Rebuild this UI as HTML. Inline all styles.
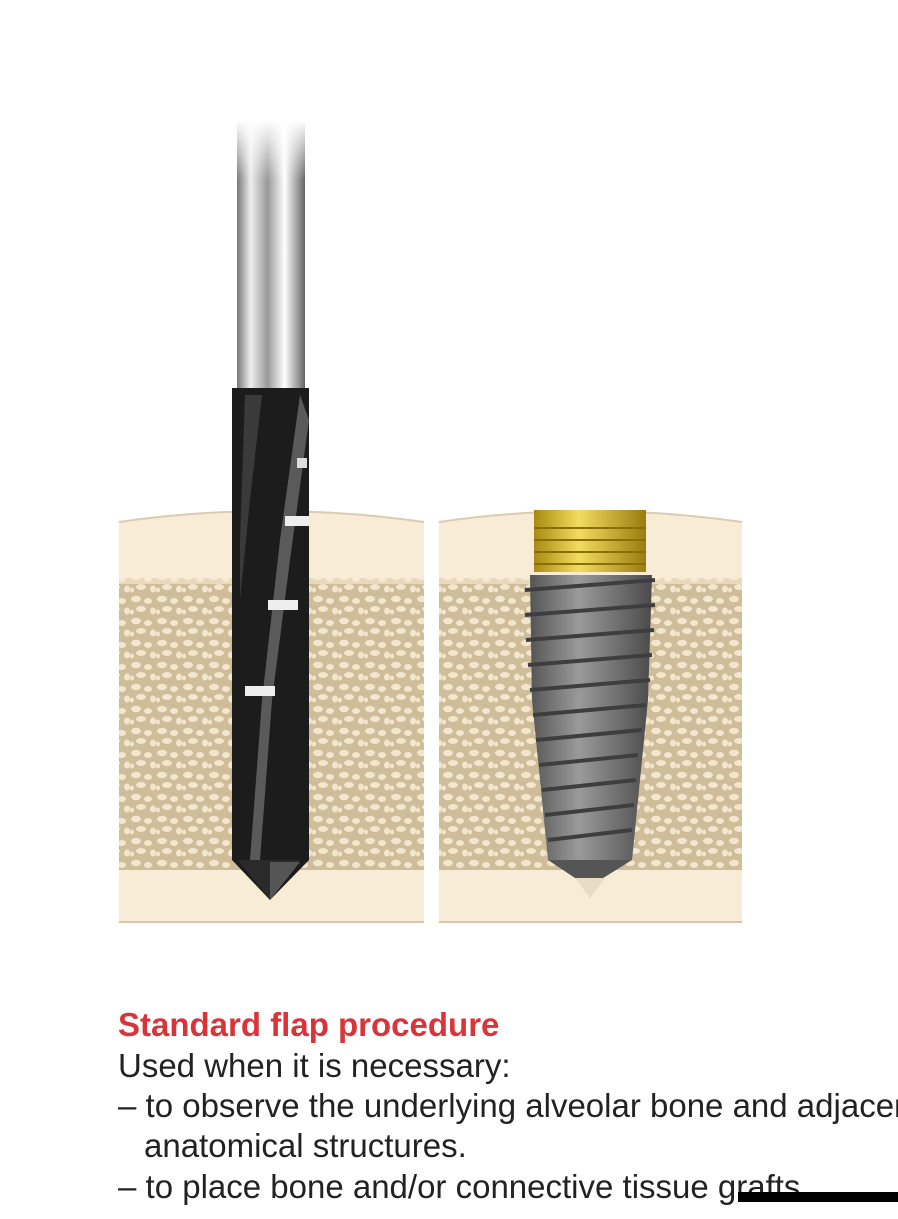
<!DOCTYPE html>
<html><head><style>
html,body{margin:0;padding:0;background:#fff;width:898px;height:1219px;overflow:hidden;position:relative}
.t{position:absolute;left:118px;font-family:"Liberation Sans",sans-serif;font-size:33px;color:#222;white-space:nowrap;line-height:1}
</style></head><body>
<svg width="898" height="1000" style="position:absolute;left:0;top:0">
<defs>
<pattern id="sp" width="26" height="22" patternUnits="userSpaceOnUse">
<rect width="26" height="22" fill="#cfbc98"/>
<ellipse cx="6" cy="5" rx="5" ry="3.2" fill="#f2e6cf"/>
<ellipse cx="18" cy="7" rx="4" ry="3" fill="#f2e6cf"/>
<ellipse cx="11" cy="15" rx="5" ry="3" fill="#f2e6cf"/>
<ellipse cx="23" cy="17" rx="3" ry="3.5" fill="#f2e6cf"/>
<ellipse cx="2" cy="18" rx="2" ry="2.5" fill="#f2e6cf"/>
</pattern>
<linearGradient id="shaft" x1="0" x2="1">
<stop offset="0" stop-color="#777"/><stop offset="0.2" stop-color="#eee"/><stop offset="0.45" stop-color="#999"/><stop offset="0.7" stop-color="#fff"/><stop offset="1" stop-color="#666"/>
</linearGradient>
<linearGradient id="shaftfade" x1="0" y1="0" x2="0" y2="1">
<stop offset="0" stop-color="#fff" stop-opacity="1"/><stop offset="1" stop-color="#fff" stop-opacity="0"/>
</linearGradient>
<linearGradient id="gold" x1="0" x2="1">
<stop offset="0" stop-color="#a88a10"/><stop offset="0.4" stop-color="#f2dc60"/><stop offset="1" stop-color="#9a7c10"/>
</linearGradient>
<linearGradient id="ti" x1="0" x2="1">
<stop offset="0" stop-color="#555"/><stop offset="0.4" stop-color="#9a9a9a"/><stop offset="1" stop-color="#4a4a4a"/>
</linearGradient>
</defs>
<path d="M119 522 Q270 500 424 522 L424 922 L119 922 Z" fill="#f8ecd6"/>
<rect x="119" y="578" width="305" height="292" fill="url(#sp)"/>
<rect x="119" y="570" width="305" height="14" fill="#f8ecd6" opacity="0.6"/>
<path d="M119 522 Q270 500 424 522" stroke="#dccbb0" stroke-width="2" fill="none"/>
<line x1="119" y1="922" x2="424" y2="922" stroke="#d8c6a6" stroke-width="2"/>
<path d="M439 522 Q590 500 742 522 L742 922 L439 922 Z" fill="#f8ecd6"/>
<rect x="439" y="578" width="303" height="292" fill="url(#sp)"/>
<rect x="439" y="570" width="303" height="14" fill="#f8ecd6" opacity="0.6"/>
<path d="M439 522 Q590 500 742 522" stroke="#dccbb0" stroke-width="2" fill="none"/>
<line x1="439" y1="922" x2="742" y2="922" stroke="#d8c6a6" stroke-width="2"/>
<rect x="237" y="120" width="68" height="270" fill="url(#shaft)"/>
<rect x="237" y="120" width="68" height="60" fill="url(#shaftfade)"/>
<path d="M232 388 L309 388 L309 860 L270 900 L232 860 Z" fill="#1c1c1c"/>
<path d="M300 395 L309 420 L290 560 L272 700 L260 860 L250 860 L262 700 L280 540 Z" fill="#5a5a5a"/>
<path d="M245 395 L262 395 L250 500 L240 600 L240 540 Z" fill="#3a3a3a"/>
<rect x="285" y="516" width="24" height="10" fill="#eee"/>
<rect x="268" y="600" width="30" height="10" fill="#eee"/>
<rect x="245" y="686" width="30" height="10" fill="#eee"/>
<rect x="297" y="458" width="10" height="10" fill="#ddd"/>
<path d="M238 860 L300 860 L270 900 Z" fill="#2a2a2a"/>
<path d="M270 862 L300 862 L270 900 Z" fill="#555"/>
<rect x="534" y="510" width="112" height="62" fill="url(#gold)"/>
<g stroke="#8a6e08" stroke-width="2">
<line x1="534" y1="528" x2="646" y2="528"/><line x1="534" y1="540" x2="646" y2="540"/><line x1="534" y1="552" x2="646" y2="552"/><line x1="534" y1="564" x2="646" y2="564"/>
</g>
<path d="M530 575 L652 575 L648 700 L632 860 L548 860 L532 700 Z" fill="url(#ti)"/>
<g stroke="#3e3e3e" stroke-width="4" fill="none">
<path d="M525 590 L655 580"/><path d="M525 615 L655 605"/><path d="M526 640 L654 630"/><path d="M528 665 L652 655"/><path d="M530 690 L650 680"/><path d="M533 715 L646 705"/><path d="M536 740 L642 730"/><path d="M539 765 L638 755"/><path d="M542 790 L636 780"/><path d="M545 815 L634 805"/><path d="M548 840 L632 830"/>
</g>
<path d="M548 860 L632 860 L600 880 L590 898 L578 880 Z" fill="#555"/>
<path d="M575 878 L605 878 L590 898 Z" fill="#e8dcc4"/>
</svg>
<div class="t" style="top:1008px;color:#d8343a;font-weight:bold;font-size:33px">Standard flap procedure</div>
<div class="t" style="top:1049px">Used when it is necessary:</div>
<div class="t" style="top:1089px">– to observe the underlying alveolar bone and adjacent</div>
<div class="t" style="top:1129px;left:144px">anatomical structures.</div>
<div class="t" style="top:1170px">– to place bone and/or connective tissue grafts.</div>
<div style="position:absolute;left:738px;top:1192px;width:160px;height:10px;background:#000"></div>
</body></html>
